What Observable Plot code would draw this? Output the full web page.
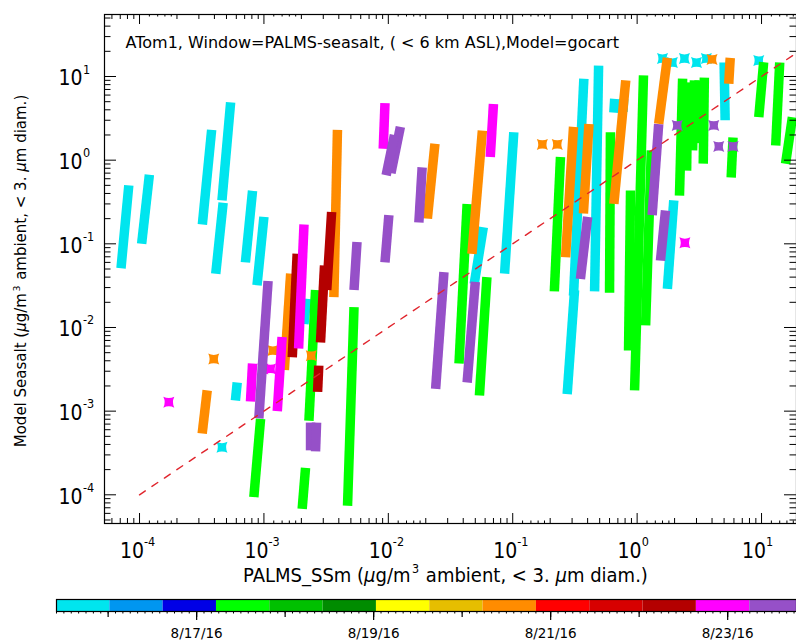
<!DOCTYPE html>
<html>
<head>
<meta charset="utf-8">
<script src="https://cdn.jsdelivr.net/npm/d3@7"></script>
<script src="https://cdn.jsdelivr.net/npm/@observablehq/plot@0.6"></script>
<style>
  html, body { margin: 0; padding: 0; background: #fff; }
  #chart { width: 796px; }
  #chart svg { display: block; }
</style>
</head>
<body>
<div id="chart"></div>
<script>
// ATom-1 flights below 6 km: PALMS measured sea salt (x) against GOCART model sea salt (y), µg/m³.
// Each track is one run of samples: [x at upper end, y at upper end, x at lower end, y at lower end].

const tracksAug15 = [
  [8.2e-5, 0.50, 7.1e-5, 0.051],
  [1.2e-4, 0.67, 1.04e-4, 0.10],
  [3.8e-4, 2.3, 3.2e-4, 0.17],
  [5.4e-4, 4.9, 4.6e-4, 0.33],
  [4.7e-4, 0.31, 4.1e-4, 0.044],
  [8.1e-4, 0.43, 7.1e-4, 0.060],
  [1.0e-3, 0.21, 8.8e-4, 0.032],
  [6.1e-4, 2.2e-3, 5.9e-4, 1.34e-3],
  [2.2e-3, 0.022, 2.1e-3, 0.011],
  [0.058, 0.158, 0.049, 0.033],
  [0.102, 2.16, 0.086, 0.044],
  [0.373, 9.4, 0.308, 0.024],
  [0.314, 0.028, 0.274, 1.6e-3],
  [0.49, 13.5, 0.455, 0.027],
  [0.66, 5.4, 0.65, 3.7],
  [0.78, 5.4, 0.77, 3.8],
  [1.97, 0.33, 1.75, 0.029],
  [5.0, 14.7, 5.1, 3.0]
];
const pointsAug15 = [
  [4.6e-4, 3.7e-4], [1.6, 16.4], [1.92, 14.7], [2.4, 16.4], [3.0, 14.7], [3.6, 16.4], [9.5, 15.5]
];

const tracksAug17 = [
  [9.4e-4, 8.1e-4, 8.3e-4, 9.4e-5],
  [2.6e-3, 0.028, 2.3e-3, 7.7e-4],
  [2.16e-3, 2.1e-4, 2.03e-3, 6.8e-5],
  [5.3e-3, 0.0175, 4.7e-3, 7.4e-5],
  [0.043, 0.30, 0.037, 3.7e-3],
  [0.062, 0.040, 0.054, 1.54e-3],
  [0.242, 1.09, 0.216, 0.027],
  [0.61, 2.16, 0.60, 0.026],
  [1.125, 10.3, 0.954, 1.77e-3],
  [1.30, 1.31, 1.17, 0.0106],
  [0.885, 0.434, 0.853, 5.3e-3],
  [2.32, 9.46, 2.19, 0.378],
  [2.55, 8.5, 2.5, 0.75],
  [2.89, 8.96, 2.79, 1.31],
  [3.15, 9.0, 3.1, 1.6],
  [3.47, 9.7, 3.40, 0.91],
  [5.9, 1.87, 5.7, 0.62],
  [10.4, 14.8, 9.5, 3.27],
  [14.0, 14.7, 13.0, 1.5],
  [17.7, 3.27, 15.6, 0.906]
];
const pointsAug17 = [];

const tracksAug20 = [
  [1.64e-3, 0.044, 1.46e-3, 3.1e-3],
  [3.5e-4, 1.77e-3, 3.19e-4, 5.4e-4],
  [3.9e-3, 2.3, 3.65e-3, 0.023],
  [0.0237, 1.57, 0.0206, 0.20],
  [0.057, 2.26, 0.047, 0.076],
  [0.308, 2.5, 0.266, 0.069],
  [0.41, 2.7, 0.37, 0.23],
  [0.81, 9.0, 0.65, 0.30],
  [1.75, 16.7, 1.49, 2.72],
  [5.6, 16.7, 5.45, 8.2]
];
const pointsAug20 = [
  [3.95e-4, 4.2e-3], [1.18e-3, 5.3e-3], [2.4e-3, 4.6e-3], [0.173, 1.54], [0.228, 1.54], [4.0, 16]
];

const tracksAug22am = [
  [1.85e-3, 0.076, 1.69e-3, 4.4e-3],
  [3.5e-3, 0.24, 3.2e-3, 0.028],
  [3.07e-3, 0.055, 2.85e-3, 6.6e-3],
  [2.76e-3, 3.5e-3, 2.7e-3, 1.7e-3]
];
const pointsAug22am = [];

const tracksAug22pm = [
  [2.1e-3, 0.17, 1.9e-3, 5.6e-3],
  [1.4e-3, 7.7e-3, 1.28e-3, 1.0e-3],
  [8.1e-4, 3.7e-3, 7.8e-4, 1.3e-3],
  [9.4e-3, 4.8, 9.1e-3, 1.37],
  [0.070, 4.7, 0.066, 1.09]
];
const pointsAug22pm = [
  [1.72e-4, 1.28e-3], [9.8e-4, 3.2e-3], [1.13e-3, 3.2e-3], [2.42, 0.103]
];

const tracksAug23 = [
  [1.08e-3, 0.036, 9.1e-4, 8.2e-4],
  [2.37e-3, 7.3e-4, 2.37e-3, 3.4e-4],
  [2.65e-3, 7.3e-4, 2.6e-3, 3.3e-4],
  [5.6e-3, 0.105, 5.3e-3, 0.028],
  [0.0125, 2.5, 0.0105, 0.70],
  [0.0112, 2.0, 9.6e-3, 0.66],
  [0.0101, 0.22, 9.4e-3, 0.060],
  [0.0187, 0.82, 0.0176, 0.18],
  [0.028, 0.046, 0.024, 1.85e-3],
  [0.050, 0.035, 0.043, 2.2e-3],
  [0.40, 0.21, 0.35, 0.038],
  [1.49, 2.7, 1.32, 0.22],
  [1.69, 0.25, 1.54, 0.063]
];
const pointsAug23 = [
  [2.1, 2.6], [4.13, 2.6], [4.53, 1.46], [5.9, 1.46]
];

// Sampling time of each flight (UTC), which sets its colour on the time bar
const flightTimes = [
  "2016-08-15T17:00Z", "2016-08-17T12:00Z", "2016-08-20T13:00Z",
  "2016-08-22T08:00Z", "2016-08-22T23:00Z", "2016-08-23T13:00Z"
];
const flightTracks = [tracksAug15, tracksAug17, tracksAug20, tracksAug22am, tracksAug22pm, tracksAug23];
const flightPoints = [pointsAug15, pointsAug17, pointsAug20, pointsAug22am, pointsAug22pm, pointsAug23];

// Time colour bar
const barStart = "2016-08-15T10:00Z";
const barEnd = "2016-08-23T18:40Z";
const barStepHours = 14.46;
const barColors = [
  "#00e5ee", "#0096f0", "#0000e6", "#00ff00", "#00c000", "#008c00", "#ffff00",
  "#e6be00", "#ff8c00", "#ff0000", "#d70000", "#b40000", "#ff00ff", "#9650c8"
];
const barLabelDays = ["2016-08-17", "2016-08-19", "2016-08-21", "2016-08-23"];

// Axes
const xDomain = [5.23e-5, 19.1];
const yDomain = [4.54e-5, 55.1];
const oneToOne = [1e-4, 19.1];
const titleText = "ATom1, Window=PALMS-seasalt, ( < 6 km ASL),Model=gocart";
const xTitle = "PALMS_SSm (μg/m3 ambient, < 3. μm diam.)";
const yTitle = "Model Seasalt (μg/m3 ambient, < 3. μm diam.)";

// ---------------------------------------------------------------------------

const narrow = "'Liberation Sans Narrow', 'DejaVu Sans Condensed', 'Arial Narrow', sans-serif";
const sans = "'DejaVu Sans', 'Lucida Grande', sans-serif";

const t0 = +new Date(barStart);
const tEnd = +new Date(barEnd);
const step = barStepHours * 3600e3;
const thresholds = d3.range(1, barColors.length).map(i => t0 + i * step);
const colorScale = {type: "threshold", domain: thresholds, range: barColors};

const tracks = flightTimes.flatMap((t, i) =>
  flightTracks[i].map(([x1, y1, x2, y2]) => ({flight: i, t: +new Date(t), x1, y1, x2, y2})));
const points = flightTimes.flatMap((t, i) =>
  flightPoints[i].map(([x, y]) => ({flight: i, t: +new Date(t), x, y})));

// Sample marker: a square with pinched sides
const pinched = {
  draw(context, size) {
    const r = Math.sqrt(size / Math.PI);
    const k = 0.5 * r;
    context.moveTo(-r, -r);
    context.quadraticCurveTo(0, -r + k, r, -r);
    context.quadraticCurveTo(r - k, 0, r, r);
    context.quadraticCurveTo(0, r - k, -r, r);
    context.quadraticCurveTo(-r + k, 0, -r, -r);
    context.closePath();
  }
};

const W = 796, H = 590;
const mt = 14, mb = 67, ml = 104, mr = 0;
const fw = W - ml - mr, fh = H - mt - mb;

const decades = d3.range(-5, 3).map(e => +(`1e${e}`));
const within = ([a, b]) => v => v >= a * 0.9999 && v <= b * 1.0001;
const inX = within(xDomain), inY = within(yDomain);
const mult = (ms) => decades.flatMap(d => ms.map(m => m * d));
const xMajor = decades.filter(inX);
const xMinor = mult([2, 3, 4, 5, 6, 7, 8, 9]).filter(inX);
const xFine = mult([1.2, 1.4, 1.6, 1.8]).filter(inX);
const yMajor = decades.filter(inY);
const yMinor = mult([2, 3, 4, 5, 6, 7, 8, 9]).filter(inY);
const exp = d => String(Math.round(Math.log10(d)));

const xTicks = (values, len) => [
  Plot.ruleX(values, {x: d => d, insetTop: fh - len, stroke: "#000"}),
  Plot.ruleX(values, {x: d => d, insetBottom: fh - len, stroke: "#000"})
];
const yTicks = (values, len) => [
  Plot.ruleY(values, {y: d => d, insetRight: fw - len, stroke: "#000"}),
  Plot.ruleY(values, {y: d => d, insetLeft: fw - len, stroke: "#000"})
];

const flightMarks = flightTimes.flatMap((_, i) => [
  Plot.link(tracks.filter(d => d.flight === i), {
    x1: "x1", y1: "y1", x2: "x2", y2: "y2", stroke: "t",
    strokeWidth: 9.5, strokeLinecap: "butt"
  }),
  Plot.dot(points.filter(d => d.flight === i), {
    x: "x", y: "y", fill: "t", r: 5.5, symbol: pinched
  })
]);

const main = Plot.plot({
  width: W, height: H,
  marginTop: mt, marginBottom: mb, marginLeft: ml, marginRight: mr,
  style: {background: "#fff", overflow: "hidden"},
  x: {type: "log", domain: xDomain, axis: null},
  y: {type: "log", domain: yDomain, axis: null},
  color: colorScale,
  marks: [
    ...flightMarks,
    Plot.line(oneToOne, {x: d => d, y: d => d, stroke: "#e0242c", strokeWidth: 1.4, strokeDasharray: "7,8"}),
    Plot.frame({stroke: "#000", strokeWidth: 1.2}),
    ...xTicks(xMajor, 10), ...xTicks(xMinor, 5), ...xTicks(xFine, 2.5),
    ...yTicks(yMajor, 12), ...yTicks(yMinor, 6.5),
    // tick labels: "10" with a raised exponent
    Plot.text(xMajor, {x: d => d, text: () => "10", frameAnchor: "bottom", textAnchor: "end", lineAnchor: "bottom",
      dx: 4.5, dy: 34, fontSize: 21, fontFamily: narrow, fill: "#000"}),
    Plot.text(xMajor, {x: d => d, text: exp, frameAnchor: "bottom", textAnchor: "start", lineAnchor: "bottom",
      dx: 4.5, dy: 22, fontSize: 12.5, fontFamily: narrow, fill: "#000"}),
    Plot.text(yMajor, {y: d => d, text: () => "10", frameAnchor: "left", textAnchor: "end", lineAnchor: "middle",
      dx: -22, dy: 2, fontSize: 21, fontFamily: narrow, fill: "#000"}),
    Plot.text(yMajor, {y: d => d, text: exp, frameAnchor: "left", textAnchor: "start", lineAnchor: "bottom",
      dx: -21.5, dy: -3, fontSize: 12.5, fontFamily: narrow, fill: "#000"}),
    // titles
    Plot.text([titleText], {text: d => d, frameAnchor: "top-left", textAnchor: "start", lineAnchor: "bottom",
      dx: 21, dy: 33, fontSize: 16, fontFamily: sans, fill: "#000"}),
    Plot.text([xTitle], {text: d => d, frameAnchor: "bottom", textAnchor: "middle", lineAnchor: "middle",
      dx: -5, dy: 52, fontSize: 20, fontFamily: narrow, fill: "#000"}),
    Plot.text([yTitle], {text: d => d, frameAnchor: "left", textAnchor: "middle", lineAnchor: "middle",
      rotate: -90, dx: -83, dy: 2, fontSize: 15, fontFamily: sans, fill: "#000"})
  ]
});

// Italic µ and superscript 3 in the axis titles
function richen(svg, plain, fontSize) {
  d3.select(svg).selectAll("text").filter(function () { return this.textContent === plain; }).each(function () {
    const t = d3.select(this);
    t.text(null);
    const parts = plain.split(/(μ|m3)/).filter(s => s !== "");
    const up = fontSize * 0.45;
    let back = 0;
    const add = (s) => {
      const ts = t.append("tspan").text(s);
      if (back) { ts.attr("dy", back).attr("dx", 1); back = 0; }
      return ts;
    };
    for (const p of parts) {
      if (p === "μ") add("μ").attr("font-style", "italic");
      else if (p === "m3") {
        add("m");
        t.append("tspan").attr("dy", -up).attr("dx", 1.5).attr("font-size", fontSize * 0.62).text("3");
        back = up;
      } else add(p);
    }
  });
}
richen(main, xTitle, 20);
richen(main, yTitle, 15);

// Colour bar for sampling time
const segments = barColors.map((c, i) => ({
  x1: t0 + i * step,
  x2: Math.min(t0 + (i + 1) * step, tEnd),
  t: t0 + (i + 0.5) * step
})).filter(d => d.x1 < tEnd);

const hourTicks = d3.utcHour.every(2).range(new Date(t0), new Date(tEnd));
const dayTicks = d3.utcDay.range(new Date(t0), new Date(tEnd));
const labelTicks = barLabelDays.map(d => new Date(d + "T00:00Z"));
const barH = 12;
const barTop = 599 - H;

const bar = Plot.plot({
  width: W, height: 641 - H,
  marginTop: barTop, marginBottom: 641 - H - barTop - barH, marginLeft: 56, marginRight: 0,
  style: {background: "#fff", overflow: "hidden"},
  x: {type: "utc", domain: [new Date(t0), new Date(tEnd)], axis: null},
  color: colorScale,
  marks: [
    Plot.rect(segments, {x1: "x1", x2: "x2", fill: "t"}),
    Plot.frame({stroke: "#000", strokeWidth: 1.2}),
    Plot.ruleX(hourTicks, {x: d => d, insetTop: barH, insetBottom: -2.5, stroke: "#000"}),
    Plot.ruleX(dayTicks, {x: d => d, insetTop: barH, insetBottom: -6, stroke: "#000", strokeWidth: 1.2}),
    Plot.ruleX(labelTicks, {x: d => d, insetTop: barH, insetBottom: -9, stroke: "#000", strokeWidth: 1.2}),
    Plot.text(labelTicks, {x: d => d, text: d3.utcFormat("%-m/%-d/%y"), frameAnchor: "bottom", lineAnchor: "bottom",
      dy: 26, fontSize: 13.5, fontFamily: sans, fill: "#000"})
  ]
});

document.getElementById("chart").append(main, bar);
</script>
</body>
</html>
